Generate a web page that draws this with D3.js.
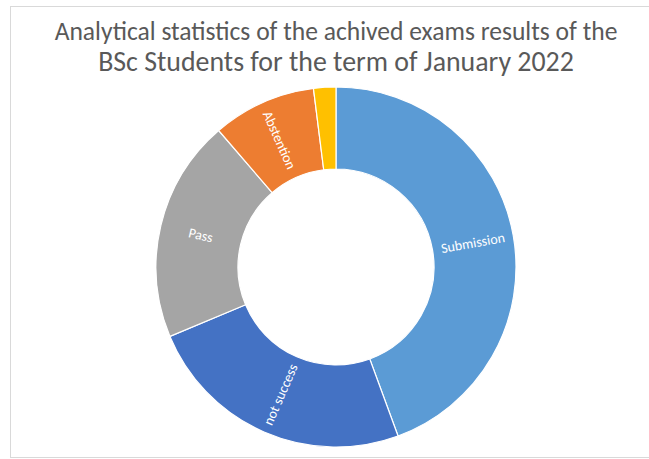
<!DOCTYPE html>
<html>
<head>
    <meta charset="UTF-8">
    <title></title>
    <script src="https://cdn.jsdelivr.net/npm/d3@7/dist/d3.min.js"></script>
    <style>
        body{
            padding: 0;
            margin: 0;
            background: #fff;
        }
        text{
            font-family: Carlito, "Open Sans", sans-serif;
        }
    </style>
</head>
<body>
<div class="first"></div>

<script>

    var categories = ["Submission", "not success", "Pass", "Abstention", "Other"];
    var values = [44.4, 24.3, 20.0, 9.3, 2.0];
    var colors = ["#5B9BD5", "#4472C4", "#A5A5A5", "#ED7D31", "#FFC000"];
    var titleLines = ["Analytical statistics of the achived exams results of the",
                      "BSc Students for the term of January 2022"];

    var width = 649, height = 459;
    var cx = 336, cy = 267;
    var outerR = 180, innerR = 98;

    var svg = d3.select(".first")
        .append("svg")
        .attr("width", width)
        .attr("height", height);

    // chart frame
    svg.append("rect")
        .attr("x", 10.5)
        .attr("y", 6.5)
        .attr("width", 700)
        .attr("height", 451)
        .attr("fill", "none")
        .attr("stroke", "#d9d9d9");

    // title, sized to the width it takes in the picture
    var titleWidths = [563, 476];
    var titleY = [40, 71];
    svg.selectAll(".title")
        .data(titleLines)
        .enter()
        .append("text")
        .attr("class", "title")
        .attr("x", cx)
        .attr("y", function(d, i){ return titleY[i]; })
        .attr("text-anchor", "middle")
        .attr("fill", "#595959")
        .style("font-size", "20px")
        .text(function(d){ return d; })
        .each(function(d, i){
            var w = this.getComputedTextLength();
            d3.select(this).style("font-size", (20 * titleWidths[i] / w) + "px");
        });

    var pie = d3.pie()
        .sort(null)
        .value(function(d){ return d; });

    var arc = d3.arc()
        .innerRadius(innerR)
        .outerRadius(outerR);

    var g = svg.append("g")
        .attr("transform", "translate(" + cx + "," + cy + ")");

    var arcs = pie(values);

    g.selectAll(".slice")
        .data(arcs)
        .enter()
        .append("path")
        .attr("class", "slice")
        .attr("d", arc)
        .attr("fill", function(d, i){ return colors[i]; })
        .attr("stroke", "#fff")
        .attr("stroke-width", 1.2);

    // rotated labels along the radius
    g.selectAll(".lbl")
        .data(arcs.filter(function(d){ return d.value > 5; }))
        .enter()
        .append("text")
        .attr("class", "lbl")
        .attr("transform", function(d){
            var c = arc.centroid(d);
            var mid = (d.startAngle + d.endAngle) / 2 * 180 / Math.PI;
            var rot = mid < 180 ? mid - 90 : mid - 270;
            return "translate(" + c[0] + "," + c[1] + ") rotate(" + rot + ")";
        })
        .attr("text-anchor", "middle")
        .attr("dy", "0.35em")
        .attr("fill", "#fff")
        .style("font-size", "14px")
        .text(function(d){ return categories[d.index]; });

</script>
</body>
</html>
